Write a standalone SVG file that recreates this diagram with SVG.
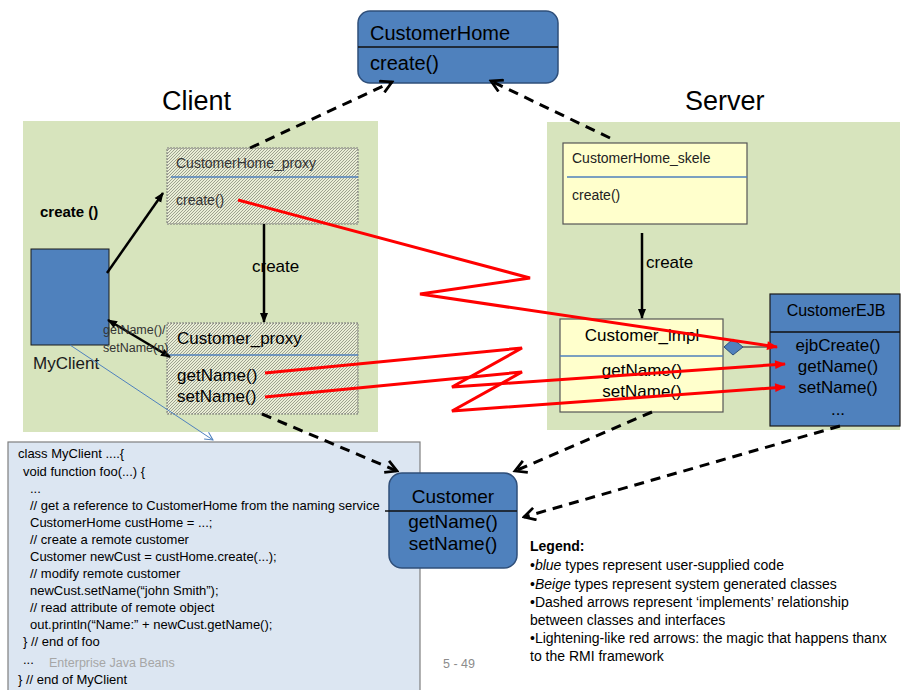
<svg xmlns="http://www.w3.org/2000/svg" width="902" height="690" viewBox="0 0 902 690">
<defs>
<style>
text{font-family:"Liberation Sans",Arial,sans-serif;fill:#000}
.panel{fill:#d7e4bd}
.blue{fill:#4f81bd;stroke:#2f4f7a;stroke-width:1.5}
.beige{fill:#ffffcc;stroke:#555;stroke-width:1.2}
.hatch{fill:url(#hatch);stroke:#777;stroke-width:1;stroke-dasharray:2 1}
.sep{stroke:#4f81bd;stroke-width:1.5}
.bsep{stroke:#111;stroke-width:1.5}
.dash{fill:none;stroke:#000;stroke-width:3;stroke-dasharray:10 7;marker-end:url(#open)}
.solid{fill:none;stroke:#000;stroke-width:2.5}
.red{fill:none;stroke:#ff0000;stroke-width:3;stroke-linejoin:miter;marker-end:url(#redhead)}
.code{font-family:"Liberation Sans",Arial,sans-serif;font-size:13px}
.leg{font-family:"Liberation Sans",Arial,sans-serif;font-size:14px}
</style>
<pattern id="hatch" patternUnits="userSpaceOnUse" width="3" height="3">
<rect width="3" height="3" fill="#e9edd6"/>
<path d="M-1,1 L1,-1 M0,3 L3,0 M2,4 L4,2" stroke="#7d7f70" stroke-width="0.7"/>
</pattern>
<marker id="open" viewBox="0 0 12 12" refX="10" refY="6" markerWidth="15" markerHeight="15" markerUnits="userSpaceOnUse" orient="auto">
<path d="M1,1 L10,6 L1,11" fill="none" stroke="#000" stroke-width="2.2"/>
</marker>
<marker id="blk" viewBox="0 0 10 10" refX="9" refY="5" markerWidth="10" markerHeight="10" markerUnits="userSpaceOnUse" orient="auto-start-reverse">
<path d="M0,1 L10,5 L0,9 z" fill="#000"/>
</marker>
<marker id="redhead" viewBox="0 0 10 10" refX="9" refY="5" markerWidth="13" markerHeight="11" markerUnits="userSpaceOnUse" orient="auto">
<path d="M0,1 L10,5 L0,9 z" fill="#ff0000"/>
</marker>
<marker id="thinblue" viewBox="0 0 10 10" refX="9" refY="5" markerWidth="10" markerHeight="10" markerUnits="userSpaceOnUse" orient="auto">
<path d="M1,1 L9,5 L1,9" fill="none" stroke="#4f81bd" stroke-width="1"/>
</marker>
</defs>
<rect width="902" height="690" fill="#fff"/>

<g id="panels">
<rect class="panel" x="23" y="121" width="355" height="311"/>
<rect class="panel" x="547" y="122" width="353" height="308"/>
<text x="162" y="110" font-size="27">Client</text>
<text x="685" y="110" font-size="27">Server</text>
</g>

<g id="code-box">
<rect x="8" y="442" width="412" height="260" fill="#dce6f2" stroke="#7f7f7f" stroke-width="1.2"/>
<text class="code" x="18" y="458">class MyClient ....{</text>
<text class="code" x="23" y="476">void function foo(...) {</text>
<text class="code" x="30" y="493">...</text>
<text class="code" x="30" y="510">// get a reference to CustomerHome from the naming service</text>
<text class="code" x="30" y="527">CustomerHome custHome = ...;</text>
<text class="code" x="30" y="544">// create a remote customer</text>
<text class="code" x="30" y="561">Customer newCust = custHome.create(...);</text>
<text class="code" x="30" y="578">// modify remote customer</text>
<text class="code" x="30" y="595">newCust.setName(“john Smith”);</text>
<text class="code" x="30" y="612">// read attribute of remote object</text>
<text class="code" x="30" y="629">out.println(“Name:” + newCust.getName();</text>
<text class="code" x="23" y="646">}  // end of  foo</text>
<text class="code" x="23" y="664">...</text>
<text x="49" y="667" font-size="12.5" style="fill:#a6a6a6">Enterprise Java Beans</text>
<text class="code" x="18" y="684">} // end of MyClient</text>
</g>

<g id="CustomerHome">
<rect class="blue" x="358" y="11" width="200" height="72" rx="12"/>
<line class="bsep" x1="358" y1="47" x2="558" y2="47"/>
<text x="370" y="40" font-size="20">CustomerHome</text>
<text x="370" y="70" font-size="20">create()</text>
</g>

<g id="CustomerHome_proxy">
<rect class="hatch" x="167" y="148" width="191" height="76"/>
<line class="sep" x1="171" y1="177" x2="358" y2="177"/>
<text x="176" y="168" font-size="14" style="fill:#333">CustomerHome_proxy</text>
<text x="176" y="205" font-size="14" style="fill:#333">create()</text>
</g>

<g id="Customer_proxy">
<rect class="hatch" x="167" y="323" width="191" height="91"/>
<line class="sep" x1="167" y1="355" x2="358" y2="355"/>
<text x="177" y="344" font-size="17">Customer_proxy</text>
<text x="177" y="381" font-size="17">getName()</text>
<text x="177" y="402" font-size="17">setName()</text>
</g>

<g id="MyClient">
<rect x="31" y="249" width="78" height="96" fill="#4f81bd" stroke="#1a1a1a" stroke-width="1"/>
<text x="33" y="369" font-size="17" style="fill:#1a1a1a">MyClient</text>
</g>

<g id="CustomerHome_skele">
<rect class="beige" x="563" y="143" width="184" height="81"/>
<line class="sep" x1="567" y1="177" x2="747" y2="177"/>
<text x="572" y="163" font-size="14" style="fill:#222">CustomerHome_skele</text>
<text x="572" y="200" font-size="14" style="fill:#222">create()</text>
</g>

<g id="Customer_impl">
<rect class="beige" x="560" y="319" width="163" height="93"/>
<line class="sep" x1="560" y1="356" x2="723" y2="356"/>
<text x="642" y="341" font-size="17" text-anchor="middle">Customer_impl</text>
<text x="642" y="376" font-size="17" text-anchor="middle">getName()</text>
<text x="642" y="397" font-size="17" text-anchor="middle">setName()</text>
</g>

<g id="CustomerEJB">
<rect x="770" y="294" width="130" height="132" fill="#4f81bd" stroke="#1a1a1a" stroke-width="1.2"/>
<line class="bsep" x1="770" y1="332" x2="900" y2="332"/>
<text x="836" y="316" font-size="16" text-anchor="middle">CustomerEJB</text>
<text x="838" y="351" font-size="17" text-anchor="middle">ejbCreate()</text>
<text x="838" y="372" font-size="17" text-anchor="middle">getName()</text>
<text x="838" y="393" font-size="17" text-anchor="middle">setName()</text>
<text x="838" y="415" font-size="17" text-anchor="middle">...</text>
</g>

<g id="Customer">
<rect class="blue" x="389" y="473" width="128" height="95" rx="13"/>
<line class="bsep" x1="385" y1="511" x2="517" y2="511"/>
<text x="453" y="503" font-size="19" text-anchor="middle">Customer</text>
<text x="453" y="528" font-size="19" text-anchor="middle">getName()</text>
<text x="453" y="550" font-size="19" text-anchor="middle">setName()</text>
</g>

<g id="legend">
<text class="leg" x="530" y="551" font-weight="bold" font-size="13">Legend:</text>
<text class="leg" x="530" y="570">•<tspan font-style="italic">blue</tspan> types represent user-supplied code</text>
<text class="leg" x="530" y="589">•<tspan font-style="italic">Beige</tspan> types represent system generated classes</text>
<text class="leg" x="530" y="607">•Dashed arrows represent ‘implements’ relationship</text>
<text class="leg" x="530" y="625">between classes and interfaces</text>
<text class="leg" x="530" y="643">•Lightening-like red arrows: the magic that happens thanx</text>
<text class="leg" x="530" y="661">to the RMI framework</text>
<text x="443" y="668" font-size="12.5" style="fill:#8c8c8c">5 - 49</text>
</g>

<g id="connectors">
<line class="dash" x1="250" y1="148" x2="392" y2="82"/>
<line class="dash" x1="610" y1="138" x2="491" y2="81"/>
<line class="dash" x1="262" y1="414" x2="397" y2="471"/>
<line class="dash" x1="652" y1="412" x2="515" y2="471"/>
<line class="dash" x1="840" y1="426" x2="524" y2="517"/>
<line class="solid" x1="107" y1="273" x2="163" y2="193" marker-end="url(#blk)"/>
<line class="solid" x1="108" y1="320" x2="170" y2="357" marker-start="url(#blk)" marker-end="url(#blk)"/>
<line class="solid" x1="264" y1="224" x2="264" y2="322" marker-end="url(#blk)"/>
<line class="solid" x1="642" y1="233" x2="642" y2="318" marker-end="url(#blk)"/>
<line x1="70" y1="345" x2="213" y2="440" stroke="#4f81bd" stroke-width="1" marker-end="url(#thinblue)"/>
<line x1="742" y1="347" x2="770" y2="347" stroke="#404040" stroke-width="1.2"/>
<polygon points="724,347 733,339 743,347 733,355" fill="#4f81bd" stroke="#2f4f7a" stroke-width="1"/>
<text x="40" y="217" font-size="15" font-weight="bold">create ()</text>
<text x="252" y="272" font-size="17">create</text>
<text x="646" y="268" font-size="17">create</text>
<text x="103" y="334" font-size="12.5" style="fill:#333">getName()/</text>
<text x="103" y="352" font-size="12.5" style="fill:#333">setName(n)</text>
<polyline class="red" points="238,200 530,278 420,294 777,347"/>
<polyline class="red" points="265,373 522,348 452,387 785,364"/>
<polyline class="red" points="265,397 522,372 452,411 785,387"/>
</g>
</svg>
